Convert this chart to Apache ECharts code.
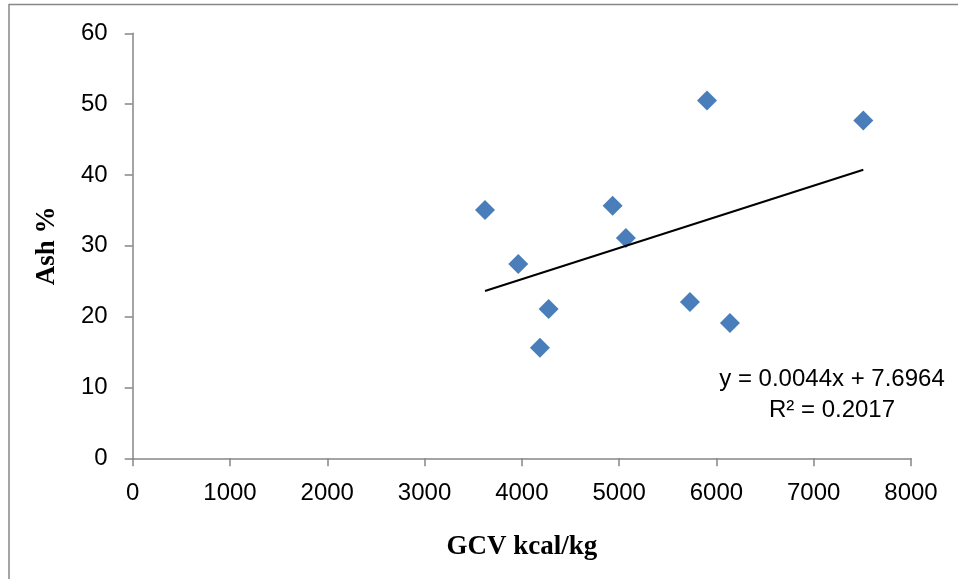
<!DOCTYPE html>
<html>
<head>
<meta charset="utf-8">
<script src="https://cdn.jsdelivr.net/npm/echarts@6/dist/echarts.min.js"></script>
<style>
  html, body { margin: 0; padding: 0; background: #fff; }
  #chart { width: 958px; height: 579px; }
</style>
</head>
<body>
<div id="chart"></div>
<script>
// GCV (kcal/kg) vs Ash (%) readings
const gcv = [3621, 3963, 4275, 4186, 4933, 5069, 5728, 5903, 6139, 7510];
const ash = [35.07, 27.44, 21.09, 15.62, 35.64, 31.1, 22.08, 50.5, 19.1, 47.7];

// linear trend line as shown on the chart
const slope = 0.0044;
const intercept = 7.6964;
const trendLabel = ['y = 0.0044x + 7.6964', 'R² = 0.2017'];

const xTicks = [0, 8000, 1000]; // min, max, interval
const yTicks = [0, 60, 10];

const points = gcv.map((x, i) => [x, ash[i]]);
const xMin = Math.min(...gcv);
const xMax = Math.max(...gcv);
const trend = [
  [xMin, slope * xMin + intercept],
  [xMax, slope * xMax + intercept]
];

const chart = echarts.init(document.getElementById('chart'));

const labelFont = { fontFamily: 'Liberation Sans', fontSize: 24, color: '#000' };
const titleFont = { fontFamily: 'Liberation Serif', fontSize: 27, fontWeight: 'bold', color: '#000' };

const option = {
  animation: false,
  grid: { left: 132.7, right: 47, top: 33.3, bottom: 120.7 },
  xAxis: {
    type: 'value',
    min: xTicks[0], max: xTicks[1], interval: xTicks[2],
    name: 'GCV kcal/kg',
    nameLocation: 'middle',
    nameGap: 75,
    nameTextStyle: titleFont,
    axisLine: { lineStyle: { color: '#868686', width: 1.5 } },
    axisTick: { show: true, length: 8, lineStyle: { color: '#868686', width: 1.5 } },
    axisLabel: Object.assign({ margin: 23, formatter: v => String(v) }, labelFont),
    splitLine: { show: false }
  },
  yAxis: {
    type: 'value',
    min: yTicks[0], max: yTicks[1], interval: yTicks[2],
    name: 'Ash %',
    nameLocation: 'middle',
    nameGap: 72,
    nameTextStyle: titleFont,
    axisLine: { show: true, lineStyle: { color: '#868686', width: 1.5 } },
    axisTick: { show: true, length: 8, lineStyle: { color: '#868686', width: 1.5 } },
    axisLabel: Object.assign({ margin: 25, formatter: v => String(v) }, labelFont),
    splitLine: { show: false }
  },
  series: [
    {
      type: 'scatter',
      data: points,
      symbol: 'diamond',
      symbolSize: 20,
      itemStyle: { color: '#4a7ebb', opacity: 1 },
      z: 3
    },
    {
      type: 'line',
      data: trend,
      symbol: 'none',
      lineStyle: { color: '#000', width: 2 },
      z: 4
    }
  ],
  graphic: [
    {
      type: 'rect',
      shape: { x: 9, y: 4.5, width: 1000, height: 1000 },
      style: { fill: 'none', stroke: '#888', lineWidth: 1.5 },
      silent: true
    },
    {
      type: 'text',
      x: 832,
      y: 394.5,
      style: {
        text: trendLabel.join('\n'),
        align: 'center',
        verticalAlign: 'middle',
        font: '24px "Liberation Sans"',
        lineHeight: 31,
        fill: '#000'
      }
    }
  ]
};

chart.setOption(option);
</script>
</body>
</html>
